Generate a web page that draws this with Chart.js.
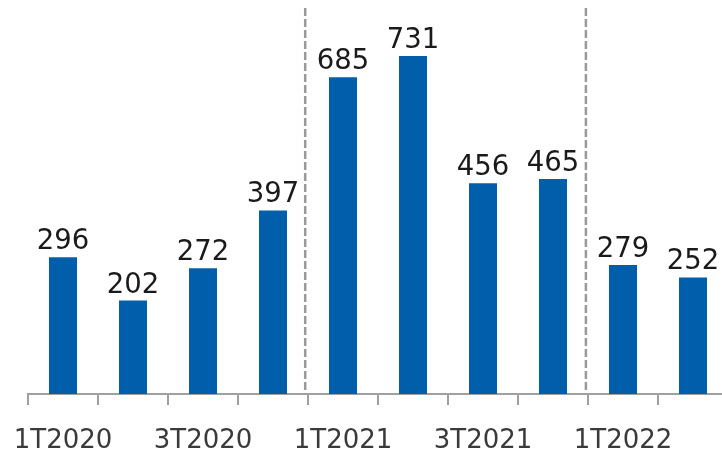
<!DOCTYPE html>
<html>
<head>
<meta charset="utf-8">
<script src="https://cdn.jsdelivr.net/npm/chart.js@4"></script>
<style>
  html, body { margin: 0; padding: 0; background: #fff; overflow: hidden; }
  #wrap { width: 722px; height: 455px; overflow: hidden; }
</style>
</head>
<body>
<div id="wrap"><canvas id="myChart" width="740" height="477"></canvas></div>
<script>
let trimestres = ['1T2020', '2T2020', '3T2020', '4T2020', '1T2021', '2T2021', '3T2021', '4T2021', '1T2022', '2T2022']
let valores = [296, 202, 272, 397, 685, 731, 456, 465, 279, 252]
let separadores = [3.46, 7.47]

let corBarra = '#005EAA'
let corEixo = '#a0a0a0'
let fonte = '"DejaVu Sans", sans-serif'

// rotulos em cima das barras
const rotulos = {
    id: 'rotulos',
    afterDatasetsDraw(chart) {
        let c = chart.ctx
        let meta = chart.getDatasetMeta(0)
        c.save()
        c.font = '27.5px ' + fonte
        c.fillStyle = '#1a1a1a'
        c.textAlign = 'center'
        c.textBaseline = 'alphabetic'
        meta.data.forEach(function(barra, i) {
            c.fillText(valores[i], barra.x, barra.y - 8)
        })
        c.restore()
    }
}

// linhas tracejadas entre os anos
const linhas = {
    id: 'linhas',
    beforeDatasetsDraw(chart) {
        let c = chart.ctx
        let x = chart.scales.x
        let y = chart.scales.y
        c.save()
        c.strokeStyle = '#9a9a9a'
        c.lineWidth = 2.5
        c.setLineDash([8, 3])
        separadores.forEach(function(s) {
            let px = x.left + (s + 0.5) * (x.width / trimestres.length)
            c.beginPath()
            c.moveTo(px, y.getPixelForValue(835))
            c.lineTo(px, y.getPixelForValue(0))
            c.stroke()
        })
        c.restore()
    }
}

const ctx = document.getElementById('myChart').getContext('2d')
let myChart = new Chart(ctx, {
    type: 'bar',
    data: {
        labels: trimestres,
        datasets: [{
            data: valores,
            backgroundColor: corBarra,
            barPercentage: 0.4,
            categoryPercentage: 1.0
        }]
    },
    options: {
        responsive: false,
        animation: false,
        layout: { padding: { left: 28, right: 12, top: 1, bottom: 0 } },
        plugins: { legend: { display: false }, tooltip: { enabled: false } },
        scales: {
            y: { display: false, min: 0, max: 850 },
            x: {
                border: { display: true, color: corEixo, width: 2 },
                grid: { display: true, drawOnChartArea: false, offset: true, color: corEixo, lineWidth: 2, tickLength: 11 },
                ticks: {
                    autoSkip: false,
                    maxRotation: 0,
                    padding: 0,
                    color: '#3a3a3a',
                    font: { family: fonte, size: 26, lineHeight: 2.77 },
                    callback: function(v, i) { return i % 2 == 0 ? trimestres[i] : '' }
                }
            }
        }
    },
    plugins: [linhas, rotulos]
})
</script>
</body>
</html>
